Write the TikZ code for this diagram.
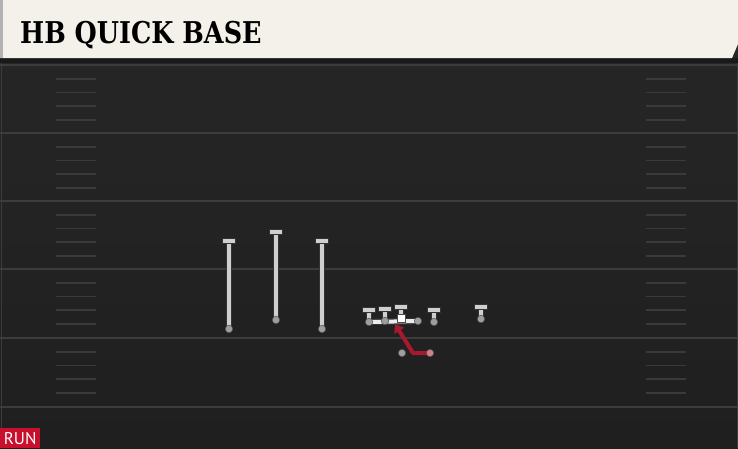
\documentclass[tikz,border=0pt]{standalone}
\usepackage{fontspec}
\usetikzlibrary{arrows.meta}
\newfontfamily\titlefont{DejaVu Serif}
\newfontfamily\tagfont{PT Sans}
\definecolor{field}{HTML}{262626}
\definecolor{fieldlow}{HTML}{1F1F1F}
\definecolor{banner}{HTML}{F4F1EA}
\definecolor{yardline}{HTML}{3C3C3C}
\definecolor{hashline}{HTML}{3A3A3A}
\definecolor{routegray}{HTML}{CFCFCF}
\definecolor{dotgray}{HTML}{9E9E9E}
\definecolor{runred}{HTML}{C8102E}
\definecolor{routered}{HTML}{A8182F}
\tikzset{
  route/.style={line width=4pt, draw=routegray, preaction={draw=black!80, line width=5.8pt}},
  tbar/.style={line width=4.4pt, draw=routegray, preaction={draw=black!80, line width=6.2pt, shorten <=-1pt, shorten >=-1pt}},
  dot/.style={circle, fill=dotgray, draw=black!70, line width=0.5pt, inner sep=0pt, minimum size=7.5pt},
  runroute/.style={line width=4pt, draw=routered, line join=round, -{Triangle[width=11pt,length=8pt]}},
}
\newcommand{\tbarat}[1]{\draw[tbar] ([xshift=-6pt]#1) -- ([xshift=6pt]#1);}
\begin{document}
\begin{tikzpicture}[x=1pt,y=-1pt]
\useasboundingbox (0,0) rectangle (738,448);
% field
\shade[top color=field, bottom color=fieldlow] (0,40) rectangle (738,448);
\fill[black!90] (0,58) rectangle (738,63);
\draw[yardline, line width=1pt] (1,63) -- (1,448);
\draw[yardline, line width=1pt] (737,63) -- (737,448);
\foreach \y in {65,133,201,269,338,407}
  \draw[yardline, line width=2pt] (0,\y) -- (738,\y);
\foreach \y in {65,133,201,269,338}
  \foreach \k in {1,...,4} {
    \draw[hashline, line width=1.6pt] (56,\y+\k*13.7) -- (96,\y+\k*13.7);
    \draw[hashline, line width=1.6pt] (646,\y+\k*13.7) -- (686,\y+\k*13.7);
  }

% title banner
\fill[banner] (0,0) -- (738,0) -- (738,44) -- (732,58) -- (0,58) -- cycle;
\fill[black!30] (0,0) rectangle (3,58);
\node[anchor=base west, inner sep=0pt] (title) at (20,43)
  {\titlefont\bfseries\fontsize{30}{30}\selectfont\scalebox{0.85}[1]{HB QUICK BASE}};

% players
\coordinate (wr1) at (229,329);
\coordinate (wr2) at (276,320);
\coordinate (wr3) at (322,329);
\coordinate (lt) at (369,322);
\coordinate (lg) at (385,321);
\coordinate (c) at (401,318);
\coordinate (rg) at (418,321);
\coordinate (rt) at (434,322);
\coordinate (te) at (481,319);
\coordinate (qb) at (402,353);
\coordinate (rb) at (430,353);

\coordinate (wr1end) at (229,241);
\coordinate (wr2end) at (276,232);
\coordinate (wr3end) at (322,241);
\coordinate (ltend) at (369,310);
\coordinate (lgend) at (385,309);
\coordinate (cend) at (401,307);
\coordinate (rtend) at (434,310);
\coordinate (teend) at (481,307);
\coordinate (rbturn) at (413,353);
\coordinate (rbend) at (395,324);

\foreach \p in {wr1,wr2,wr3,lt,lg,c,rt,te}
  \draw[route] (\p) -- (\p end);
\foreach \p in {wr1,wr2,wr3,lt,lg,c,rt,te}
  \tbarat{\p end}
\draw[route, draw=white!92!black] (lt) -- (rg);

\node[dot] (wr1dot) at (wr1) {};
\node[dot] (wr2dot) at (wr2) {};
\node[dot] (wr3dot) at (wr3) {};
\node[dot] (ltdot) at (lt) {};
\node[dot] (lgdot) at (lg) {};
\node[dot] (rgdot) at (rg) {};
\node[dot] (rtdot) at (rt) {};
\node[dot] (tedot) at (te) {};
\node[dot] (qbdot) at (qb) {};
\draw[runroute] (rb) -- (rbturn) -- (rbend);
\node[dot, fill=routered!55!white] (rbdot) at (rb) {};
\node[fill=white, draw=black!70, line width=0.5pt, minimum size=8pt, inner sep=0pt] (cdot) at (c) {};

% play type
\node[fill=runred, text=white, anchor=north west, minimum width=40pt, minimum height=20pt, inner sep=0pt] (tag) at (0,428)
  {\tagfont\fontsize{17}{17}\selectfont RUN};
\end{tikzpicture}
\end{document}
